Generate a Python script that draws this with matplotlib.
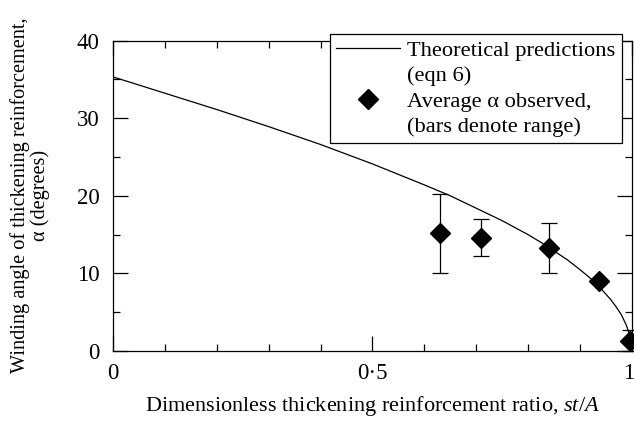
import matplotlib
matplotlib.use("Agg")
import matplotlib.pyplot as plt
import matplotlib.transforms as mtransforms
from matplotlib.lines import Line2D
from matplotlib.ticker import MultipleLocator
import numpy as np

plt.rcParams["font.family"] = "Liberation Serif"
plt.rcParams["mathtext.fontset"] = "custom"
plt.rcParams["mathtext.rm"] = "Liberation Serif"
plt.rcParams["mathtext.it"] = "Liberation Serif:italic"

# theoretical curve (eqn 6)
theory_x = [0.0, 0.1, 0.2, 0.3, 0.4, 0.5, 0.6, 0.65, 0.7, 0.75, 0.8, 0.825, 0.85,
            0.875, 0.9, 0.92, 0.94, 0.96, 0.97, 0.98, 0.99, 0.995, 0.998, 1.0]
theory_alpha = [35.3, 33.2, 31.1, 28.9, 26.6, 24.1, 21.4, 20.0, 18.4, 16.8, 15.0, 14.0, 12.9,
                11.8, 10.5, 9.4, 8.1, 6.6, 5.7, 4.7, 3.3, 2.3, 1.5, 0.0]

# observed averages and ranges
obs_x = [0.631, 0.710, 0.841, 0.938, 0.997]
obs_alpha = [15.2, 14.5, 13.3, 9.0, 1.3]
obs_low = [10.1, 12.2, 10.1, 9.0, 0.0]
obs_high = [20.2, 17.0, 16.5, 9.0, 2.7]

TICK_FS = 16.5
XLAB_FS = 16
YLAB_FS = 14.6
LEG_FS = 16.2

fig = plt.figure(figsize=(6.34, 4.21), dpi=100)
ax = fig.add_axes([0.1787, 0.1663, 0.8175, 0.7375])

ax.plot(theory_x, theory_alpha, color="black", lw=0.9)

a = np.array(obs_alpha)
yerr = [a - np.array(obs_low), np.array(obs_high) - a]
ax.errorbar(obs_x, obs_alpha, yerr=yerr, fmt="none", ecolor="black",
            elinewidth=0.9, capsize=6, capthick=0.9, clip_on=False)
ax.plot(obs_x, obs_alpha, linestyle="none", marker="D", markersize=10,
        color="black", clip_on=False, zorder=5)

ax.set_xlim(0, 1)
ax.set_ylim(0, 40)
ax.xaxis.set_minor_locator(MultipleLocator(0.1))
ax.yaxis.set_major_locator(MultipleLocator(10))
ax.yaxis.set_minor_locator(MultipleLocator(5))
ax.set_xticks([0, 0.5, 1])
ax.set_xticklabels(["0", "0\u00b75", "1"])

ax.tick_params(which="both", direction="in", top=True, right=True,
               width=0.9, labelsize=TICK_FS, colors="black")
ax.tick_params(which="major", length=10.5)
ax.tick_params(which="minor", length=5)
ax.tick_params(axis="x", pad=9)
ax.tick_params(axis="y", pad=10)
for s in ax.spines.values():
    s.set_linewidth(0.9)

# last x label sits on the picture edge; nudge it in a little
lab = ax.get_xticklabels()[-1]
lab.set_transform(lab.get_transform() +
                  mtransforms.ScaledTranslation(-2 / 72, 0, fig.dpi_scale_trans))

ax.set_xlabel("Dimensionless thickening reinforcement ratio, $\\mathit{st/A}$",
              fontsize=XLAB_FS, labelpad=7)
ax.set_ylabel("Winding angle of thickening reinforcement,\n\u03b1 (degrees)",
              fontsize=YLAB_FS, labelpad=19, linespacing=1.05)

blank = Line2D([], [], linestyle="none")
handles = [
    Line2D([], [], color="black", lw=0.9),
    blank,
    Line2D([], [], linestyle="none", marker="D", markersize=10, color="black"),
    blank,
]
labels = ["Theoretical predictions", "(eqn 6)",
          "Average \u03b1 observed,", "(bars denote range)"]
leg = ax.legend(handles, labels, loc="upper left",
                bbox_to_anchor=(0.5205, 0.919), bbox_transform=fig.transFigure,
                fontsize=LEG_FS, frameon=True, fancybox=False, framealpha=1,
                edgecolor="black", handlelength=2.85, handletextpad=0.3,
                labelspacing=0.2, borderpad=0.28, borderaxespad=0)
leg.get_frame().set_linewidth(0.9)
leg.set_zorder(10)

fig.savefig("out.png", dpi=100)
